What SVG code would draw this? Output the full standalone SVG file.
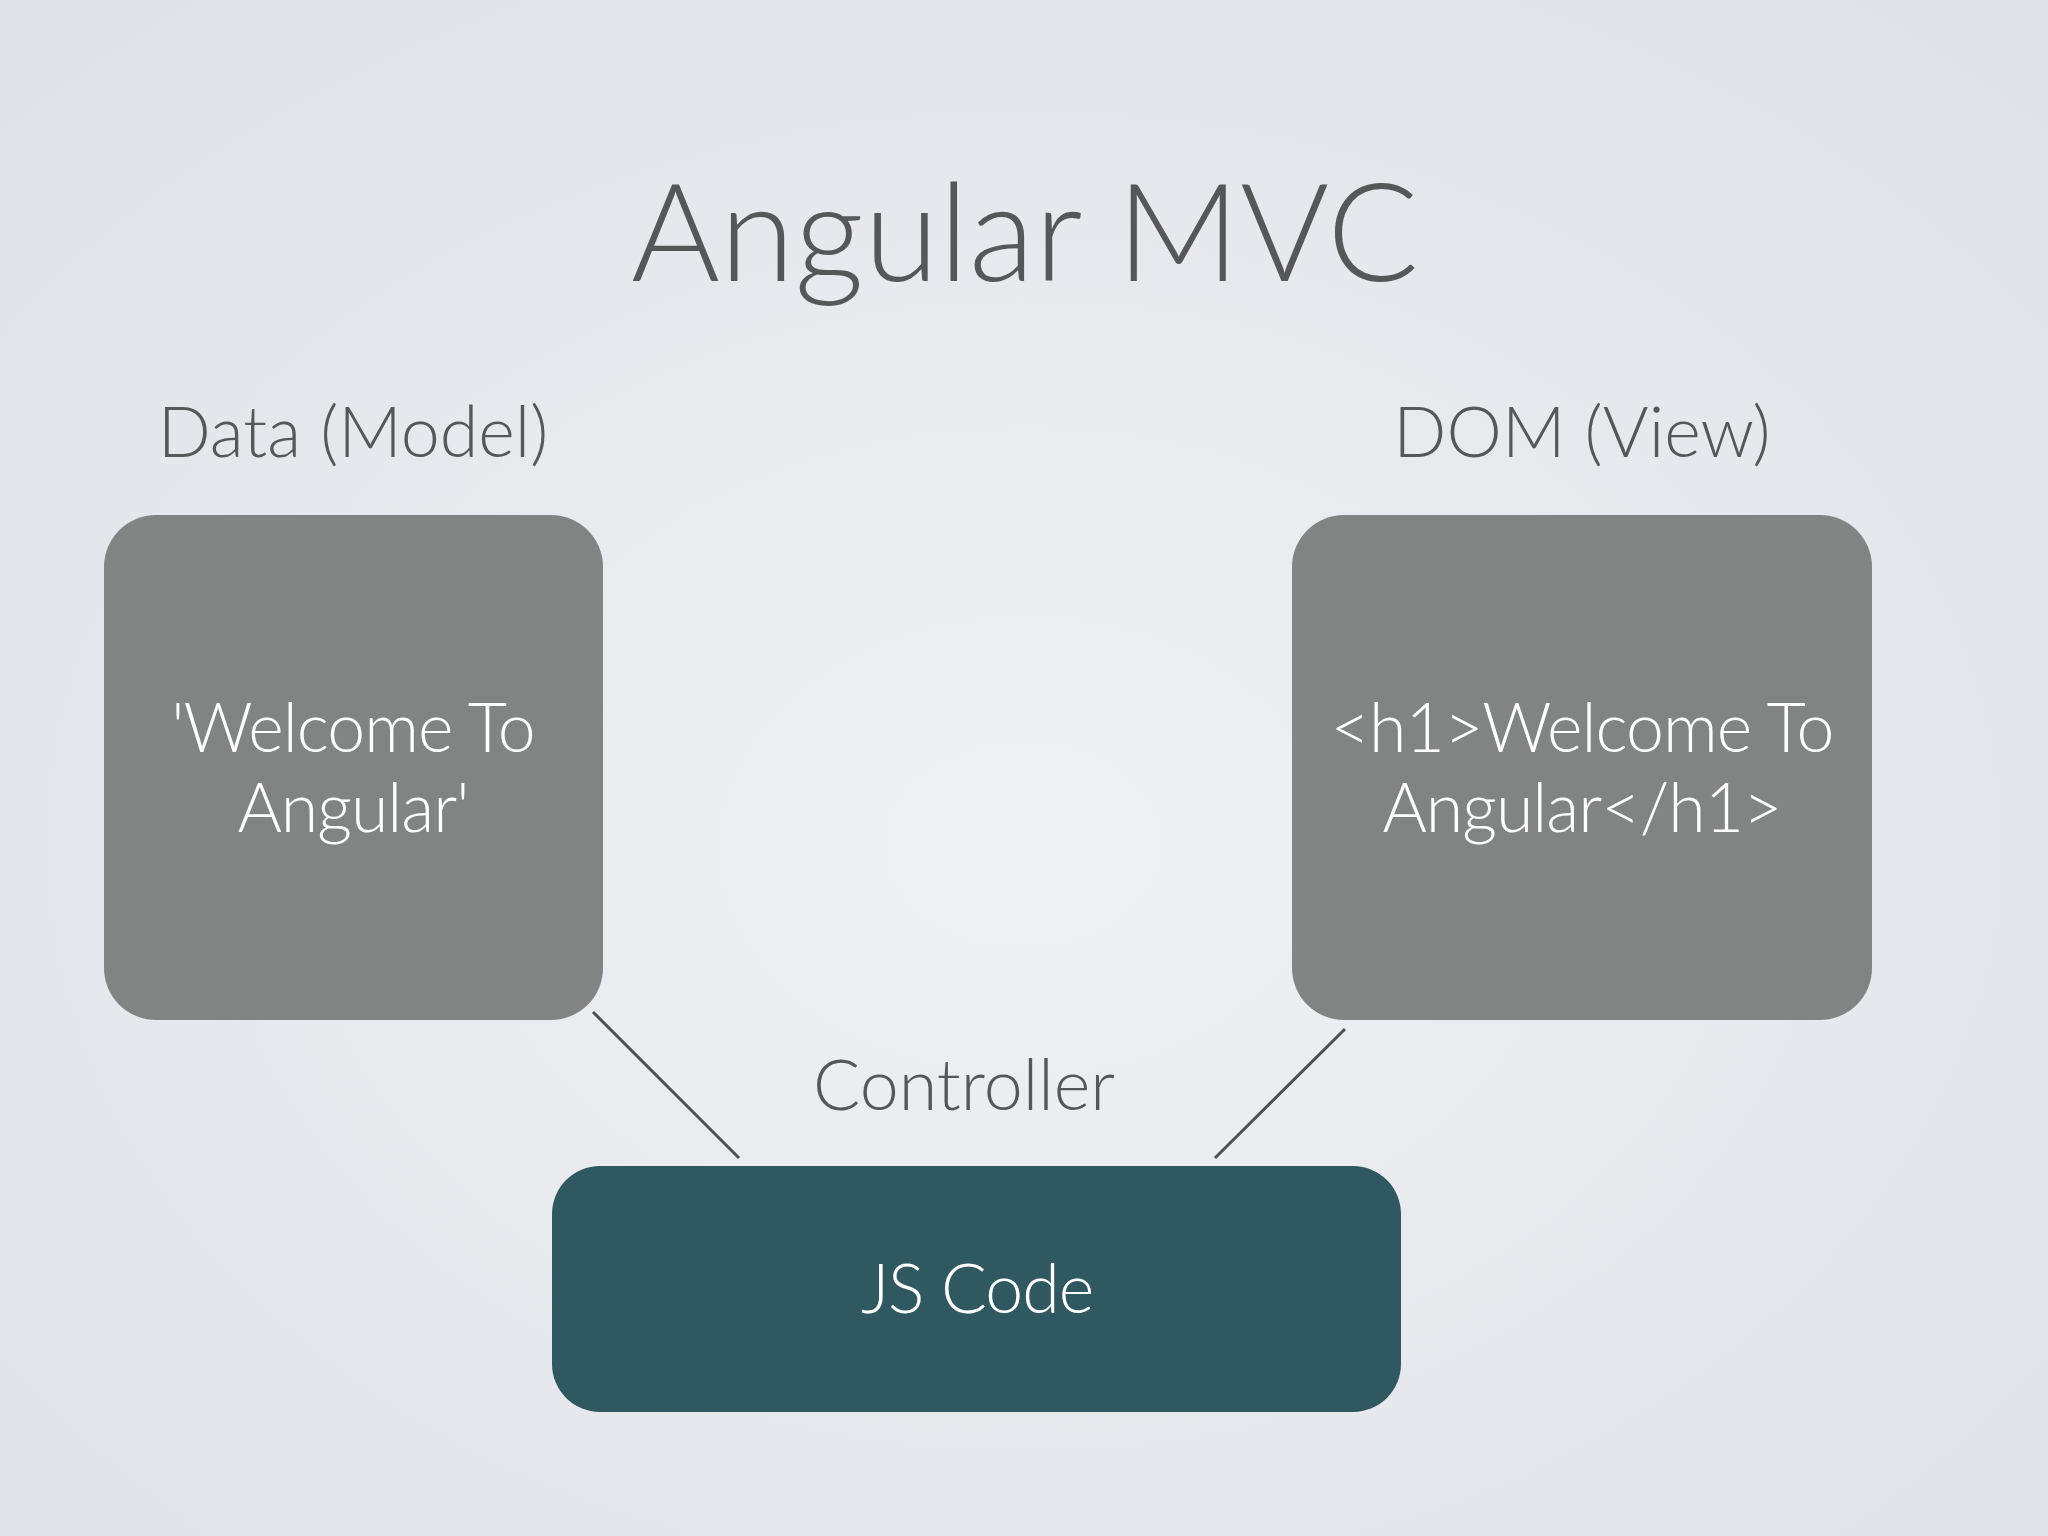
<svg xmlns="http://www.w3.org/2000/svg" width="2048" height="1536" viewBox="0 0 2048 1536">
<defs>
<radialGradient id="bg" cx="50%" cy="55%" r="75%">
<stop offset="0" stop-color="#f0f1f5"/>
<stop offset="1" stop-color="#dfe1e6"/>
</radialGradient>
<style>
text{font-family:Lato,"Open Sans",sans-serif;text-anchor:middle}
.lbl{fill:#555759;font-size:70px;font-weight:300}
.in{fill:#ffffff;font-size:68px;font-weight:300;letter-spacing:-1px}
.g{fill:#818483}
</style>
</defs>
<rect width="2048" height="1536" fill="url(#bg)"/>
<text x="1025" y="281" style="fill:#555759;font-size:136px;font-weight:300">Angular MVC</text>
<g id="connectors" stroke="#4d4f50" stroke-width="3">
<line x1="593" y1="1012" x2="739" y2="1158"/>
<line x1="1345" y1="1029" x2="1215" y2="1158"/>
</g>
<g id="model">
<text class="lbl" x="353" y="457">Data (Model)</text>
<rect class="g" x="104" y="515" width="499" height="505" rx="52"/>
<text class="in" x="353" y="752">'Welcome To</text>
<text class="in" x="353" y="832">Angular'</text>
</g>
<g id="view">
<text class="lbl" x="1582" y="457">DOM (View)</text>
<rect class="g" x="1292" y="515" width="580" height="505" rx="52"/>
<text class="in" x="1582" y="752">&lt;h1&gt;Welcome To</text>
<text class="in" x="1582" y="832">Angular&lt;/h1&gt;</text>
</g>
<g id="controller">
<text class="lbl" x="964" y="1110">Controller</text>
<rect x="552" y="1166" width="849" height="246" rx="48" fill="#2f5860"/>
<text class="in" x="977" y="1313">JS Code</text>
</g>
</svg>
